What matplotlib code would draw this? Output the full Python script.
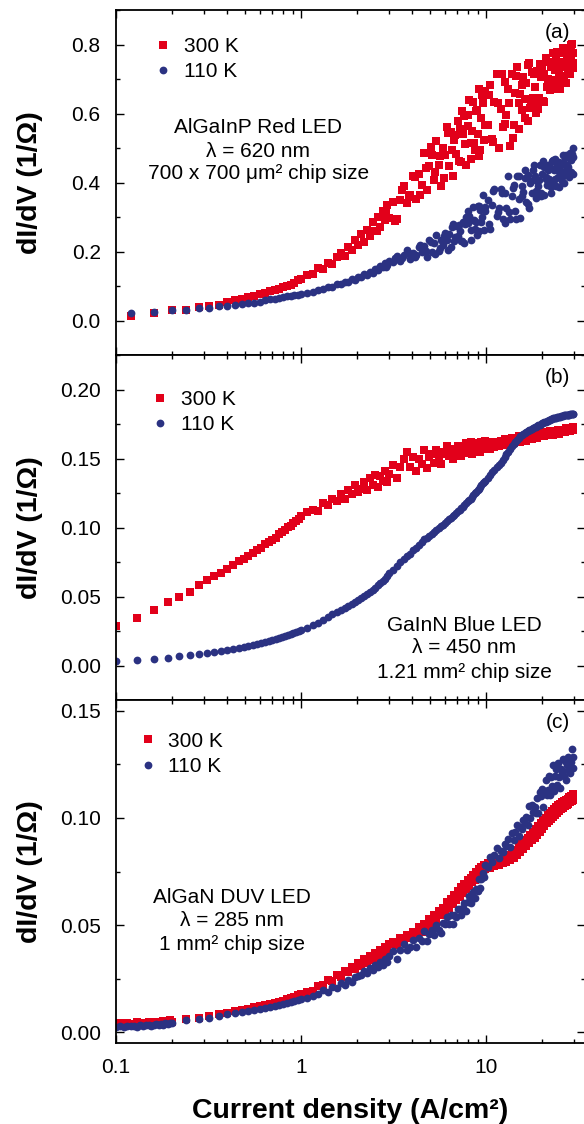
import matplotlib
matplotlib.use('Agg')
import matplotlib.pyplot as plt
from matplotlib.ticker import FixedLocator, LogLocator, MultipleLocator, FormatStrFormatter, NullFormatter
from matplotlib.lines import Line2D

plt.rcParams['font.family'] = ['Liberation Sans', 'DejaVu Sans']

RED = '#E2001A'
BLUE = '#2B3282'

# ---- current density grids (A/cm^2) ----
x_lo_a = [0.12, 0.16, 0.20, 0.24, 0.28, 0.32, 0.36, 0.40, 0.44, 0.48, 0.52, 0.56,
          0.60, 0.64, 0.68, 0.72, 0.76, 0.80, 0.84, 0.88, 0.92, 0.96, 1.00]
x_lo_b = [0.10, 0.13, 0.16, 0.19, 0.22, 0.25, 0.28, 0.31, 0.34, 0.37, 0.40, 0.43,
          0.46, 0.49, 0.52, 0.55, 0.58, 0.61, 0.64, 0.67, 0.70, 0.73, 0.76, 0.79,
          0.82, 0.85, 0.88, 0.91, 0.94, 0.97, 1.00]
x_lo_c = [0.100, 0.105, 0.110, 0.115, 0.120, 0.125, 0.130, 0.135, 0.140, 0.145, 0.150,
          0.155, 0.160, 0.165, 0.170, 0.175, 0.180, 0.185, 0.190, 0.195, 0.200,
          0.24, 0.28, 0.32, 0.36, 0.40, 0.44, 0.48, 0.52, 0.56, 0.60, 0.64, 0.68,
          0.72, 0.76, 0.80, 0.84, 0.88, 0.92, 0.96, 1.00]
x_1to3 = [1.08, 1.16, 1.24, 1.32, 1.40, 1.48, 1.56, 1.64, 1.72, 1.80, 1.88, 1.96,
          2.04, 2.12, 2.20, 2.28, 2.36, 2.44, 2.52, 2.60, 2.68, 2.76, 2.84, 2.92, 3.00]
x_3to10 = [3.15, 3.30, 3.45, 3.60, 3.75, 3.90, 4.05, 4.20, 4.35, 4.50, 4.65, 4.80,
           4.95, 5.10, 5.25, 5.40, 5.55, 5.70, 5.85, 6.00, 6.15, 6.30, 6.45, 6.60,
           6.75, 6.90, 7.05, 7.20, 7.35, 7.50, 7.65, 7.80, 7.95, 8.10, 8.25, 8.40,
           8.55, 8.70, 8.85, 9.00, 9.15, 9.30, 9.45, 9.60, 9.75, 9.90]
x_10to30 = [10.2, 10.5, 10.8, 11.1, 11.4, 11.7, 12.0, 12.3, 12.6, 12.9, 13.2, 13.5,
            13.8, 14.1, 14.4, 14.7, 15.0, 15.3, 15.6, 15.9, 16.2, 16.5, 16.8, 17.1,
            17.4, 17.7, 18.0, 18.3, 18.6, 18.9, 19.2, 19.5, 19.8, 20.1, 20.4, 20.7,
            21.0, 21.3, 21.6, 21.9, 22.2, 22.5, 22.8, 23.1, 23.4, 23.7, 24.0, 24.3,
            24.6, 24.9, 25.2, 25.5, 25.8, 26.1, 26.4, 26.7, 27.0, 27.3, 27.6, 27.9,
            28.2, 28.5, 28.8, 29.1, 29.4, 29.7]
x_hi = x_1to3 + x_3to10 + x_10to30
# second sweep of the red LED, in between the others
x_extra_a = [2.56, 2.88, 3.22, 3.52, 3.82, 4.12, 4.42, 4.72, 5.02, 5.32, 5.62, 5.92,
             6.22, 6.52, 6.82, 7.12, 7.42, 7.72, 8.02, 8.32, 8.62, 8.92, 9.22, 9.52,
             9.82, 10.35, 10.95, 11.55, 12.15, 12.75, 13.35, 13.95, 14.55, 15.15, 15.75,
             16.35, 16.95, 17.55, 18.15, 18.75, 19.35, 19.95, 20.55, 21.15, 21.75, 22.35,
             22.95, 23.55, 24.15, 24.75, 25.35, 25.95, 26.55, 27.15, 27.75, 28.35, 28.95, 29.55]

# ---- (a) AlGaInP red LED ----
a300 = [0.014, 0.022, 0.029, 0.031, 0.038, 0.043, 0.046, 0.053, 0.058, 0.062, 0.068, 0.072,
        0.077, 0.081, 0.085, 0.088, 0.092, 0.096, 0.099, 0.104, 0.110, 0.116, 0.121,
        0.132, 0.136, 0.152, 0.150, 0.168, 0.163, 0.183, 0.196, 0.188, 0.212, 0.203, 0.232,
        0.218, 0.250, 0.228, 0.262, 0.245, 0.285, 0.258, 0.300, 0.272, 0.318, 0.290, 0.335, 0.296,
        .344, .294, .349, .390, .340, .365, .418, .351, .424, .392,
        .485, .378, .447, .480, .408, .520, .450, .390, .499, .480,
        .562, .448, .546, .419, .523, .483, .578, .556, .458, .540,
        .592, .450, .565, .640, .515, .550, .632, .495, .607, .540,
        .672, .495, .587, .630, .522, .665,
        .567, .684, .526, .632, .714, .501, .612, .561, .690, .597,
        .672, .507, .714, .567, .660, .735, .556, .656, .609, .706,
        .643, .688, .579, .747, .617, .721, .646, .677, .621, .722,
        .612, .744, .707, .737, .635, .714, .761, .678, .700, .750,
        .668, .736, .696, .776, .670, .726, .752, .688, .774, .716,
        .670, .750, .734, .790, .708, .776, .688, .755, .730, .786,
        .772, .714, .759, .801, .733, .775]
a300_extra = [.260, .314, .287, .379, .358, .415, .363, .441, .503, .429,
              .476, .414, .543, .493, .539, .463, .608, .512, .597, .467,
              .514, .609, .478, .653, .568, .653, .516, .631, .715, .571,
              .631, .529, .709, .631, .682, .586, .740, .638, .715, .602,
              .646, .722, .633, .752, .698, .744, .673, .734, .777, .706,
              .737, .687, .778, .740, .766, .718, .798, .747]
a110 = [0.022, 0.025, 0.029, 0.031, 0.036, 0.037, 0.041, 0.043, 0.044, 0.048, 0.050, 0.052,
        0.055, 0.058, 0.061, 0.063, 0.065, 0.068, 0.070, 0.071, 0.073, 0.075, 0.077,
        .081, .083, .089, .091, .097, .098, .105, .106, .111, .112, .119, .118, .126,
        .125, .134, .131, .141, .139, .150, .146, .158, .154, .167, .160, .172,
        .170, .186, .172, .189, .203, .177, .195, .189, .213, .200,
        .217, .184, .233, .200, .226, .248, .202, .232, .220, .253,
        .234, .252, .214, .281, .230, .275, .244, .259, .231, .285,
        .225, .301, .282, .304, .233, .291, .329, .266, .285, .331,
        .258, .321, .285, .363, .262, .317,
        .350, .264, .334, .382, .304, .327, .382, .293, .369, .325,
        .418, .295, .361, .392, .318, .419, .352, .298, .391, .372,
        .436, .344, .421, .325, .400, .371, .436, .420, .355, .405,
        .389, .451, .370, .424, .462, .363, .416, .393, .452, .411,
        .444, .371, .461, .397, .437, .468, .391, .436, .415, .458,
        .432, .452, .403, .481, .421, .471, .435, .450, .421, .474,
        .415, .485, .466, .484, .426, .500]
a110_extra = [.149, .154, .182, .181, .195, .184, .218, .201, .227, .192,
              .209, .245, .203, .272, .243, .278, .230, .279, .316, .262,
              .290, .249, .332, .300, .329, .281, .376, .315, .370, .282,
              .314, .383, .295, .419, .360, .413, .337, .405, .450, .376,
              .407, .360, .446, .411, .437, .388, .466, .411, .451, .388,
              .412, .457, .400, .480, .445, .478, .431, .473]

# ---- (b) GaInN blue LED ----
b300 = [.0285, .0345, .0400, .0457, .0500, .0535, .0580, .0620, .0650, .0670, .0700, .0730,
        .0755, .0770, .0790, .0815, .0835, .0855, .0880, .0895, .0910, .0925, .0950, .0965,
        .0980, .1005, .1010, .1035, .1050, .1065, .1080,
        .111, .113, .112, .118, .116, .121, .119, .124, .121, .127, .124, .131, .126,
        .128, .133, .127, .136, .131, .138, .129, .137, .134, .141, .133, .139,
        .145, .136, .144, .150, .155, .144, .151, .141, .150, .146,
        .156, .143, .151, .153, .147, .156, .151, .146, .155, .153,
        .159, .152, .157, .150, .156, .154, .159, .158, .152, .157,
        .155, .161, .154, .159, .162, .153, .158, .156, .161, .157,
        .161, .155, .162, .157, .160, .163,
        .161, .157, .162, .158, .162, .159, .163, .160, .164, .160,
        .163, .160, .165, .161, .164, .162, .166, .162, .165, .163,
        .166, .163, .167, .164, .166, .164, .168, .165, .167, .165,
        .168, .166, .169, .166, .168, .166, .169, .167, .169, .167,
        .170, .167, .169, .167, .170, .168, .170, .168, .171, .168,
        .170, .169, .171, .169, .171, .169, .172, .170, .171, .170,
        .172, .170, .172, .171, .173, .171]
b110 = [.0030, .0040, .0050, .0057, .0066, .0078, .0085, .0090, .0098, .0106, .0114, .0121,
        .0128, .0136, .0143, .0150, .0157, .0164, .0171, .0178, .0185, .0192, .0199, .0206,
        .0213, .0220, .0227, .0234, .0241, .0248, .0255,
        .0275, .0290, .0310, .0330, .0350, .0370, .0385, .0400, .0415, .0430, .0445, .0460,
        .0475, .0490, .0505, .0520, .0535, .0550, .0565, .0580, .0595, .0610, .0630, .0650, .0670,
        .0695, .0720, .0750, .0770, .0790, .0810, .0835, .0855, .0875, .0895,
        .0915, .0925, .0940, .0955, .0970, .0980, .0995, .1010, .1020, .1035,
        .1050, .1060, .1070, .1080, .1090, .1105, .1120, .1130, .1140, .1150,
        .1165, .1180, .1190, .1200, .1210, .1220, .1235, .1250, .1260, .1270,
        .1280, .1295, .1310, .1320, .1330, .1340,
        .136, .138, .140, .142, .144, .1455, .147, .149, .151, .153,
        .155, .157, .159, .1605, .162, .1635, .165, .166, .167, .168,
        .1685, .169, .170, .1705, .171, .1715, .172, .1725, .173, .1735,
        .174, .1745, .175, .1755, .176, .1763, .1766, .177, .1773, .1776,
        .178, .1783, .1786, .179, .1792, .1794, .1796, .1798, .180, .1802,
        .1804, .1806, .1808, .181, .1812, .1813, .1814, .1815, .1816, .1817,
        .1818, .1819, .182, .1821, .1822, .1823]

# ---- (c) AlGaN DUV LED ----
c300 = [.0035, .0041, .0037, .0043, .0038, .0040, .0046, .0039, .0044, .0041, .0048, .0042,
        .0046, .0050, .0044, .0049, .0053, .0047, .0052, .0055, .0050,
        .0064, .0068, .0076, .0084, .0090, .0097, .0104, .0110, .0116, .0122, .0127, .0132,
        .0137, .0142, .0147, .0153, .0160, .0166, .0172, .0177,
        .0190, .0193, .0218, .0222, .0243, .0240, .0265, .0258, .0287, .0280, .0305, .0296,
        .0325, .0310, .0342, .0325, .0358, .0338, .0370, .0352, .0386, .0364, .0400, .0378, .0412,
        .0422, .0408, .0440, .0425, .0452, .0441, .0470, .0452, .0492, .0470,
        .0505, .0488, .0528, .0507, .0546, .0525, .0568, .0545, .0582, .0565,
        .0606, .0580, .0620, .0600, .0640, .0615, .0660, .0632, .0678, .0650,
        .0694, .0668, .0710, .0684, .0722, .0700, .0735, .0712, .0748, .0725,
        .0760, .0738, .0770, .0750, .0780, .0760,
        .0790, .0768, .0795, .0775, .0802, .0782, .0810, .0788, .0818, .0795,
        .0828, .0805, .0840, .0815, .0852, .0828, .0868, .0840, .0880, .0855,
        .0895, .0868, .0908, .0882, .0922, .0895, .0935, .0908, .0948, .0920,
        .0960, .0935, .0975, .0950, .0988, .0962, .1000, .0975, .1012, .0985,
        .1022, .0995, .1032, .1005, .1042, .1015, .1050, .1025, .1058, .1032,
        .1066, .1040, .1072, .1048, .1078, .1055, .1085, .1060, .1090, .1066,
        .1096, .1072, .1102, .1078, .1110, .1085]
c110 = [.0025, .0029, .0023, .0031, .0027, .0030, .0026, .0034, .0029, .0033, .0036, .0030,
        .0035, .0038, .0033, .0039, .0036, .0042, .0040, .0045, .0041,
        .0056, .0060, .0068, .0076, .0083, .0089, .0095, .0100, .0105, .0110, .0115, .0120,
        .0124, .0128, .0132, .0137, .0143, .0148, .0152, .0156,
        .0162, .0170, .0178, .0196, .0190, .0212, .0206, .0228, .0220, .0243, .0236, .0258,
        .0262, .0266, .0285, .0276, .0300, .0290, .0314, .0303, .0328, .0316, .0340, .0330, .0354,
        .0378, .0341, .0383, .0413, .0383, .0400, .0432, .0398, .0439, .0426,
        .0473, .0426, .0460, .0479, .0453, .0502, .0479, .0462, .0508, .0506,
        .0540, .0505, .0545, .0507, .0547, .0539, .0577, .0575, .0549, .0581,
        .0603, .0566, .0606, .0635, .0604, .0622, .0656, .0625, .0670, .0661,
        .0713, .0673, .0715, .0742, .0724, .0781,
        .0769, .0819, .0792, .0829, .0859, .0812, .0847, .0840, .0880, .0868,
        .0901, .0862, .0931, .0898, .0934, .0969, .0917, .0958, .0948, .0992,
        .0978, .1006, .0966, .1055, .0998, .1060, .1028, .1053, .1022, .1094,
        .1024, .1121, .1101, .1134, .1052, .1126, .1176, .1106, .1132, .1195,
        .1105, .1190, .1149, .1246, .1126, .1195, .1227, .1154, .1256, .1190,
        .1138, .1230, .1216, .1274, .1194, .1264, .1178, .1248, .1222, .1286,
        .1272, .1210, .1262, .1320, .1234, .1286]

panels = [
    dict(x=x_lo_a + x_hi + x_extra_a, red=a300 + a300_extra, blue=a110 + a110_extra,
         ylim=(-0.1, 0.9), major=0.2, minor=0.1, fmt='%.1f',
         tag='(a)', leg=(0.078, 0.922),
         note=['AlGaInP Red LED', '\u03bb = 620 nm', '700 x 700 \u03bcm\u00b2 chip size'],
         note_xy=(0.303, [0.658, 0.591, 0.525])),
    dict(x=x_lo_b + x_hi, red=b300, blue=b110, ylim=(-0.025, 0.225), major=0.05, minor=0.025, fmt='%.2f',
         tag='(b)', leg=(0.072, 0.898),
         note=['GaInN Blue LED', '\u03bb = 450 nm', '1.21 mm\u00b2 chip size'],
         note_xy=(0.742, [0.217, 0.151, 0.081])),
    dict(x=x_lo_c + x_hi, red=c300, blue=c110, ylim=(-0.005, 0.155), major=0.05, minor=0.025, fmt='%.2f',
         tag='(c)', leg=(0.045, 0.908),
         note=['AlGaN DUV LED', '\u03bb = 285 nm', '1 mm\u00b2 chip size'],
         note_xy=(0.247, [0.423, 0.356, 0.286])),
]

fig = plt.figure(figsize=(5.84, 11.24), dpi=100)
W, H = 584.0, 1124.0
boxes = [(10, 355), (355, 700), (700, 1043)]
left, right = 116, 585
SQ, CI = 5.3, 5.6

for p, (top, bot) in zip(panels, boxes):
    ax = fig.add_axes([left / W, 1 - bot / H, (right - left) / W, (bot - top) / H])
    ax.plot(p['x'], p['red'], ls='none', marker='s', ms=SQ, mew=0, color=RED)
    ax.plot(p['x'][:len(p['blue'])], p['blue'], ls='none', marker='o', ms=CI, mew=0, color=BLUE)
    ax.set_xscale('log')
    ax.set_xlim(0.1, 34.3)
    ax.set_ylim(*p['ylim'])
    ax.xaxis.set_major_locator(FixedLocator([0.1, 1, 10]))
    ax.xaxis.set_minor_locator(LogLocator(base=10, subs=[2, 3, 4, 5, 6, 7, 8, 9]))
    ax.xaxis.set_minor_formatter(NullFormatter())
    ax.yaxis.set_major_locator(MultipleLocator(p['major']))
    ax.yaxis.set_minor_locator(MultipleLocator(p['minor']))
    ax.yaxis.set_major_formatter(FormatStrFormatter(p['fmt']))
    ax.tick_params(which='both', direction='in', top=True, right=True, width=1.0, labelsize=15, pad=11)
    ax.tick_params(which='major', length=5.5)
    ax.tick_params(which='minor', length=3)
    for s in ax.spines.values():
        s.set_linewidth(1.3)
    ax.set_ylabel('dI/dV (1/\u03a9)', fontsize=20.5, fontweight='bold')
    ax.yaxis.set_label_coords(-0.155, 0.5)

    handles = [Line2D([], [], ls='none', marker='s', ms=SQ, mew=0, color=RED),
               Line2D([], [], ls='none', marker='o', ms=CI, mew=0, color=BLUE)]
    ax.legend(handles, ['300 K', '110 K'], loc='upper left', bbox_to_anchor=p['leg'],
              frameon=False, fontsize=15, handlelength=1.0, handletextpad=0.5,
              labelspacing=0.3, borderpad=0, borderaxespad=0)
    ax.text(0.942, 1 - (22 / (bot - top)), p['tag'], transform=ax.transAxes,
            ha='center', va='center', fontsize=15)
    nx, nys = p['note_xy']
    for line, ny in zip(p['note'], nys):
        ax.text(nx, ny, line, transform=ax.transAxes, ha='center', va='center', fontsize=15)

    if p['tag'] != '(c)':
        ax.tick_params(labelbottom=False)
    else:
        ax.set_xticklabels(['0.1', '1', '10'])
        ax.set_xlabel('Current density (A/cm\u00b2)', fontsize=20.5, fontweight='bold')
        ax.xaxis.set_label_coords(0.5, -0.16)

fig.savefig('out.png', dpi=100)
